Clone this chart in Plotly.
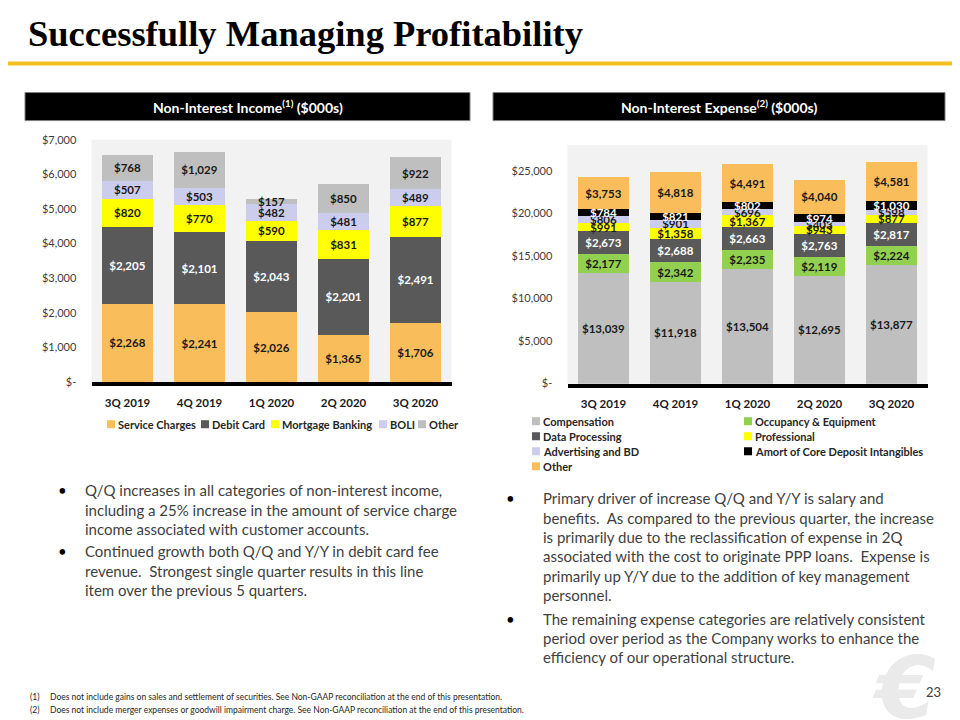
import plotly.graph_objects as go

# ---------------- data ----------------
quarters = ["3Q 2019", "4Q 2019", "1Q 2020", "2Q 2020", "3Q 2020"]

# Non-interest income ($000s)
nii_names = ["Service Charges", "Debit Card", "Mortgage Banking", "BOLI", "Other"]
service_charges = [2268, 2241, 2026, 1365, 1706]
debit_card = [2205, 2101, 2043, 2201, 2491]
mortgage_banking = [820, 770, 590, 831, 877]
boli = [507, 503, 482, 481, 489]
nii_other = [768, 1029, 157, 850, 922]

# Non-interest expense ($000s)
nie_names = ["Compensation", "Occupancy & Equipment", "Data Processing", "Professional",
             "Advertising and BD", "Amort of Core Deposit Intangibles", "Other"]
compensation = [13039, 11918, 13504, 12695, 13877]
occupancy = [2177, 2342, 2235, 2119, 2224]
data_processing = [2673, 2688, 2663, 2763, 2817]
professional = [991, 1358, 1367, 943, 877]
advertising = [806, 901, 696, 403, 598]
amort_cdi = [784, 821, 802, 974, 1030]
nie_other = [3753, 4818, 4491, 4040, 4581]

nii_tickvals = [0, 1000, 2000, 3000, 4000, 5000, 6000, 7000]
nii_ticktext = ["$-", "$1,000", "$2,000", "$3,000", "$4,000", "$5,000", "$6,000", "$7,000"]
nie_tickvals = [0, 5000, 10000, 15000, 20000, 25000]
nie_ticktext = ["$-", "$5,000", "$10,000", "$15,000", "$20,000", "$25,000"]

# ---------------- styling ----------------
W, H = 960, 720
FONT = "Lato, 'Open Sans', sans-serif"

# the page places the figure slightly offset / compressed; map slide pixels to paper
OX, OY, SY = 8.0, 14.6, 0.98


def px(x):
    return (x - OX) / W


def py(y):
    return 1 - ((y - OY) / SY) / H


nii_series = [service_charges, debit_card, mortgage_banking, boli, nii_other]
nii_colors = ["#F9BE5B", "#595959", "#FFFF00", "#CCCCEE", "#BFBFBF"]
nii_textcolors = ["#1a1a1a", "#ffffff", "#1a1a1a", "#1a1a1a", "#1a1a1a"]

nie_series = [compensation, occupancy, data_processing, professional, advertising, amort_cdi, nie_other]
nie_colors = ["#BFBFBF", "#92D050", "#595959", "#FFFF00", "#CCCCEE", "#000000", "#F9BE5B"]
nie_textcolors = ["#1a1a1a", "#1a1a1a", "#ffffff", "#1a1a1a", "#1a1a1a", "#ffffff", "#1a1a1a"]

fig = go.Figure()

for name, vals, col, tcol in zip(nii_names, nii_series, nii_colors, nii_textcolors):
    fig.add_trace(go.Bar(
        x=quarters, y=vals, name=name, marker=dict(color=col, line=dict(width=0)),
        texttemplate="<b>$%{y:,.0f}</b>", textposition="inside", insidetextanchor="middle",
        constraintext="none", textangle=0, cliponaxis=False,
        textfont=dict(family=FONT, size=11.5, color=tcol),
        xaxis="x", yaxis="y", showlegend=False, hoverinfo="skip"))

for name, vals, col, tcol in zip(nie_names, nie_series, nie_colors, nie_textcolors):
    fig.add_trace(go.Bar(
        x=quarters, y=vals, name=name, marker=dict(color=col, line=dict(width=0)),
        texttemplate="<b>$%{y:,.0f}</b>", textposition="inside", insidetextanchor="middle",
        constraintext="none", textangle=0, cliponaxis=False,
        textfont=dict(family=FONT, size=11.5, color=tcol),
        xaxis="x2", yaxis="y2", showlegend=False, hoverinfo="skip"))

xaxis_common = dict(
    type="category", showgrid=False, zeroline=False, showline=True, linewidth=4,
    linecolor="#000000", ticks="outside", ticklen=7, tickcolor="rgba(0,0,0,0)",
    tickfont=dict(family=FONT, size=11.5, color="#1a1a1a", weight="bold"), fixedrange=True)
yaxis_common = dict(
    showgrid=False, zeroline=False, showline=False, ticks="outside", ticklen=12,
    tickcolor="rgba(0,0,0,0)", tickfont=dict(family=FONT, size=11, color="#404040"),
    fixedrange=True)

fig.update_layout(
    width=W, height=H, margin=dict(l=0, r=0, t=0, b=0),
    paper_bgcolor="#ffffff", plot_bgcolor="#F2F2F2",
    barmode="stack", bargap=0.29, showlegend=False,
    xaxis=dict(domain=[px(91.5), px(451.5)], anchor="y", **xaxis_common),
    yaxis=dict(domain=[py(381), py(139)], range=[0, 7000], anchor="x",
               tickvals=nii_tickvals, ticktext=nii_ticktext, **yaxis_common),
    xaxis2=dict(domain=[px(567.5), px(927.5)], anchor="y2", **xaxis_common),
    yaxis2=dict(domain=[py(382.5), py(144.5)], range=[0, 28000], anchor="x2",
                tickvals=nie_tickvals, ticktext=nie_ticktext, **yaxis_common),
)

shapes = []
annotations = []


def rect(x0, y0, x1, y1, fill, line=None):
    shapes.append(dict(type="rect", xref="paper", yref="paper",
                       x0=px(x0), x1=px(x1), y0=py(y1), y1=py(y0),
                       fillcolor=fill, line=dict(width=0 if line is None else 1,
                                                 color=line or fill), layer="above"))


def text(x, y, s, size=13, color="#404040", family=FONT, xanchor="left", weight="normal",
         style="normal"):
    annotations.append(dict(x=px(x), y=py(y), xref="paper", yref="paper", text=s,
                            showarrow=False, xanchor=xanchor, yanchor="middle",
                            font=dict(family=family, size=size, color=color, weight=weight,
                                      style=style)))


# logo (behind page number)
text(904, 686, "€", size=86, color="#EAEAEA", family="DejaVu Sans", xanchor="center",
     weight="bold", style="italic")

# title + rule
text(26, 33, "Successfully Managing Profitability", size=36.5, color="#000000",
     family="'Liberation Serif', 'DejaVu Serif', serif", weight="bold")
rect(0, 61, 960, 65, "#F2C01E")

# section headers
rect(25, 92, 470, 120, "#000000", line="#7F7F7F")
rect(493, 92, 945, 120, "#000000", line="#7F7F7F")
text(247.5, 106, "Non-Interest Income<sup>(1)</sup> ($000s)", size=14, color="#ffffff", xanchor="center", weight="bold")
text(719, 106, "Non-Interest Expense<sup>(2)</sup> ($000s)", size=14, color="#ffffff", xanchor="center", weight="bold")

# left legend (manual, single row)
left_leg_x = [116, 210, 280, 388, 427]
for name, col, lx in zip(nii_names, nii_colors, left_leg_x):
    rect(lx - 9, 419, lx - 1, 427, col)
    text(lx, 423, name, size=11, color="#262626", weight="bold")

# right legend (manual, two columns)
right_leg = [(0, 541, 420), (1, 753, 420), (2, 541, 435), (3, 753, 435),
             (4, 541, 450), (5, 753, 450), (6, 541, 465)]
for i, lx, ly in right_leg:
    rect(lx - 9, ly - 4, lx - 1, ly + 4, nie_colors[i])
    text(lx, ly, nie_names[i], size=11, color="#262626", weight="bold")

# bullet texts
BODY = 15
BODYC = "#3F3F3F"
left_bullets = [
    (489, ["Q/Q increases in all categories of non-interest income,",
           "including a 25% increase in the amount of service charge",
           "income associated with customer accounts."]),
    (550, ["Continued growth both Q/Q and Y/Y in debit card fee",
           "revenue.  Strongest single quarter results in this line",
           "item over the previous 5 quarters."]),
]
right_bullets = [
    (497, ["Primary driver of increase Q/Q and Y/Y is salary and",
           "benefits.  As compared to the previous quarter, the increase",
           "is primarily due to the reclassification of expense in 2Q",
           "associated with the cost to originate PPP loans.  Expense is",
           "primarily up Y/Y due to the addition of key management",
           "personnel."]),
    (617, ["The remaining expense categories are relatively consistent",
           "period over period as the Company works to enhance the",
           "efficiency of our operational structure."]),
]
for (bx, tx, blocks) in [(62, 83, left_bullets), (510, 541, right_bullets)]:
    for y0, lines in blocks:
        text(bx, y0, "•", size=BODY, color="#000000", xanchor="center")
        for k, ln in enumerate(lines):
            text(tx, y0 + k * 19.3, ln, size=BODY, color=BODYC)

# footnotes
FN = "'Liberation Sans Narrow', Lato, sans-serif"
text(28, 695, "(1)", size=8.5, color="#262626", family=FN)
text(48, 695, "Does not include gains on sales and settlement of securities. See Non-GAAP reconciliation at the end of this presentation.",
     size=8.5, color="#262626", family=FN)
text(28, 708, "(2)", size=8.5, color="#262626", family=FN)
text(48, 708, "Does not include merger expenses or goodwill impairment charge. See Non-GAAP reconciliation at the end of this presentation.",
     size=8.5, color="#262626", family=FN)

# page number
text(933, 690, "23", size=13, color="#404040", xanchor="center")

fig.update_layout(shapes=shapes, annotations=annotations)
fig.write_html("out.html")
